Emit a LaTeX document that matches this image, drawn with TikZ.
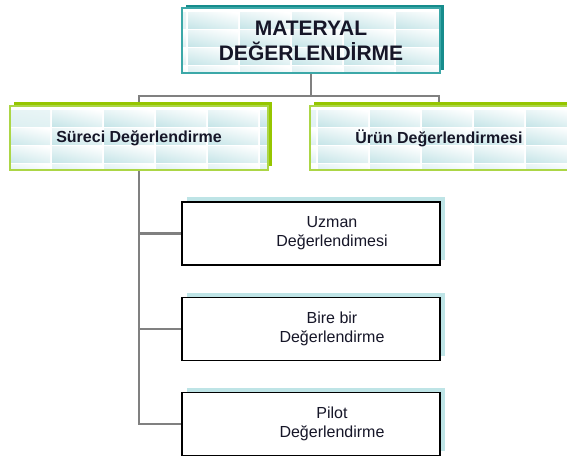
\documentclass[tikz,border=0pt]{standalone}
\usepackage{fontspec}
\setmainfont{Liberation Sans}
\usetikzlibrary{shadows,shadings,calc,backgrounds}
\definecolor{tealline}{RGB}{60,168,168}
\definecolor{tealshadow}{RGB}{22,140,140}
\definecolor{grnline}{RGB}{172,214,70}
\definecolor{grnshadow}{RGB}{150,198,0}
\definecolor{tile}{RGB}{196,228,231}
\definecolor{paleshadow}{RGB}{190,228,230}
\definecolor{connector}{RGB}{128,128,128}
\definecolor{ink}{RGB}{22,22,40}
\begin{document}
\begin{tikzpicture}[x=1pt,y=-1pt,
  tiles/.style={path picture={
    \foreach \i in {0,...,6} \foreach \j in {0,...,3}
      \shade[lower left=tile,lower right=tile!55,upper left=tile!40,upper right=white]
        ($(path picture bounding box.north west)+(\i*52+#1,5+\j*18)$) rectangle ++(50,16);}},
  topbox/.style={draw=tealline,line width=2pt,fill=white,tiles=-46,
    minimum width=258pt,minimum height=65pt,
    drop shadow={shadow xshift=4pt,shadow yshift=3pt,fill=tealshadow,opacity=1,path picture={}},
    font=\fontsize{21}{25}\selectfont\bfseries,text=ink,align=center},
  midbox/.style={draw=grnline,line width=2pt,fill=white,
    minimum width=258pt,minimum height=64pt,
    drop shadow={shadow xshift=4pt,shadow yshift=4pt,fill=grnshadow,opacity=1,path picture={}},
    font=\fontsize{16}{19}\selectfont\bfseries,text=ink},
  lowbox/.style={draw=black,line width=1.3pt,fill=white,
    minimum width=258pt,minimum height=63pt,
    drop shadow={shadow xshift=5pt,shadow yshift=5pt,fill=paleshadow,opacity=1}},
  lowtext/.style={font=\fontsize{16}{19}\selectfont,text=ink,align=center},
  link/.style={draw=connector,line width=2.8pt}]
\useasboundingbox (0,0) rectangle (567,457);
% top of the tree
\node[topbox] (mat) at (311,40.5) {MATERYAL\\DEĞERLENDİRME};
\node[midbox,tiles=-10] (surec) at (139,138) {Süreci Değerlendirme};
\node[midbox,tiles=-44] (urun) at (439,138) {Ürün Değerlendirmesi};
% evaluation kinds
\node[lowbox] (uzman) at (311,233.5) {};
\node[lowtext] (uzmanyazi) at ([xshift=21pt]uzman.center) {Uzman\\Değerlendimesi};
\node[lowbox] (birebir) at (311,329) {};
\node[lowtext] (birebiryazi) at ([xshift=21pt]birebir.center) {Bire bir\\Değerlendirme};
\node[lowbox] (pilot) at (311,424) {};
\node[lowtext] (pilotyazi) at ([xshift=21pt]pilot.center) {Pilot\\Değerlendirme};
\begin{scope}[on background layer]
  \draw[link] (mat.south) -- ++(0,22) coordinate (dal) -| (surec.north);
  \draw[link] (dal) -| (urun.north);
  \draw[link] (surec.south) |- (uzman.west);
  \draw[link] (surec.south) |- (birebir.west);
  \draw[link] (surec.south) |- (pilot.west);
\end{scope}
\end{tikzpicture}
\end{document}
